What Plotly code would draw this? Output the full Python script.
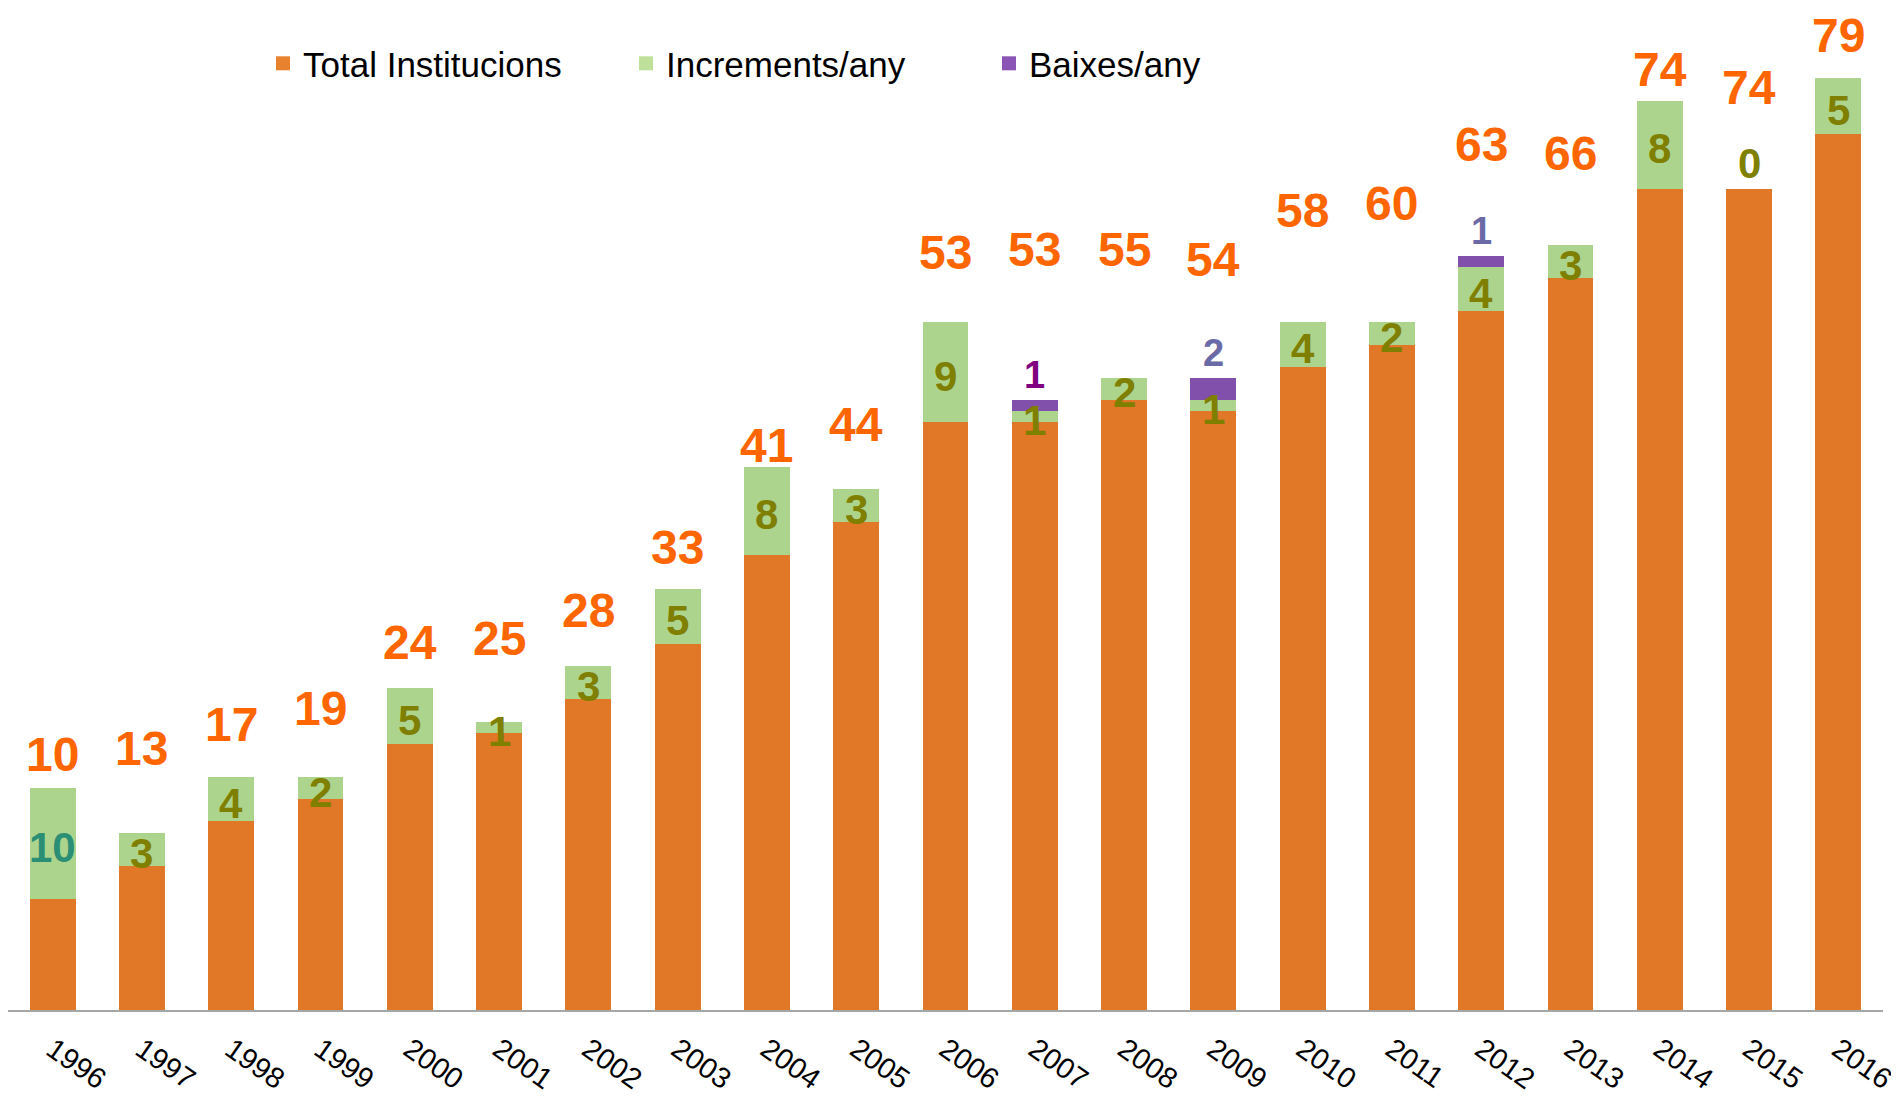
import plotly.graph_objects as go

# ---- data ----
years = [str(y) for y in range(1996, 2017)]
totals = [10, 13, 17, 19, 24, 25, 28, 33, 41, 44, 53, 53, 55, 54, 58, 60, 63, 66, 74, 74, 79]
increments = [10, 3, 4, 2, 5, 1, 3, 5, 8, 3, 9, 1, 2, 1, 4, 2, 4, 3, 8, 0, 5]
baixes = [0, 0, 0, 0, 0, 0, 0, 0, 0, 0, 0, 1, 0, 2, 0, 0, 1, 0, 0, 0, 0]
# height (in chart units) at which each total label sits
total_label_y = [23.1, 23.7, 25.8, 27.3, 33.2, 33.6, 36.1, 41.8, 51.0, 52.9, 68.4,
                 68.7, 68.7, 67.8, 72.2, 72.8, 78.1, 77.3, 84.9, 83.3, 88.0]
series_names = ["Total Institucions", "Increments/any", "Baixes/any"]

# ---- styles ----
FONT = "Liberation Sans Narrow, Arial Narrow, Liberation Sans, Arial, sans-serif"
C_ORANGE = "#E07828"
C_GREEN = "#ADD48D"
C_PURPLE = "#8150AA"
legend_colors = ["#E8822E", "#BFE09A", "#8A55B4"]
inc_label_colors = ["#2A8F74"] + ["#7F7F00"] * (len(years) - 1)
baixa_label_color = {"2007": "#800080"}

fig = go.Figure()
for vals, name, col in zip([totals, increments, baixes], series_names, [C_ORANGE, C_GREEN, C_PURPLE]):
    fig.add_trace(go.Bar(x=years, y=vals, name=name, showlegend=False,
                         marker=dict(color=col, line=dict(width=0))))

# legend entries with square swatches
for name, col in zip(series_names, legend_colors):
    fig.add_trace(go.Scatter(x=[None], y=[None], mode="markers", name=name,
                             marker=dict(symbol="square", size=14, color=col)))

annotations = []
# (annotation x on a category axis is given as the category index)
# total labels
for k, (tot, ly) in enumerate(zip(totals, total_label_y)):
    annotations.append(dict(x=k, y=ly, xref="x", yref="y", text=str(tot), showarrow=False,
                            yshift=-1,
                            font=dict(family=FONT, size=48, color="#FF6600", weight="bold")))
# increment labels (middle of the green segment; on top when the segment is empty)
for k, (tot, inc, col) in enumerate(zip(totals, increments, inc_label_colors)):
    annotations.append(dict(x=k, y=tot + inc / 2, xref="x", yref="y", text=str(inc),
                            showarrow=False,
                            yanchor="middle" if inc > 0 else "bottom",
                            yshift=-4 if inc > 0 else 0,
                            font=dict(family=FONT, size=42, color=col, weight="bold")))
# baixes labels (above the purple segment)
for k, (yr, tot, inc, bx) in enumerate(zip(years, totals, increments, baixes)):
    if bx > 0:
        annotations.append(dict(x=k, y=tot + inc + bx, xref="x", yref="y", text=str(bx),
                                showarrow=False, yanchor="bottom", yshift=2,
                                font=dict(family=FONT, size=38, weight="bold",
                                          color=baixa_label_color.get(yr, "#6A6AA6"))))

# the page adds an 8px body margin; margins are set so the plot lands where the reference's does
fig.update_layout(
    width=1899, height=1096,
    barmode="stack", bargap=0.485,
    margin=dict(l=0, r=24, t=12, b=94, autoexpand=False),
    plot_bgcolor="white", paper_bgcolor="white",
    font=dict(family=FONT, color="black"),
    legend=dict(orientation="h", x=0.136, xanchor="left", y=0.956, yanchor="middle",
                font=dict(family=FONT, size=35, color="black"),
                entrywidth=318, traceorder="normal", bgcolor="rgba(0,0,0,0)"),
    showlegend=True,
    annotations=annotations,
)
fig.update_xaxes(type="category", range=[-0.5, 20.5], autorange=False, automargin=False,
                 showline=True, linecolor="#A6A6A6", linewidth=2,
                 ticks="", tickangle=35, tickfont=dict(family=FONT, size=29, color="black"),
                 ticklabelstandoff=9, showgrid=False, zeroline=False)
fig.update_yaxes(visible=False, range=[0, 89.27], autorange=False, showgrid=False, zeroline=False)

fig.write_html("out.html")
